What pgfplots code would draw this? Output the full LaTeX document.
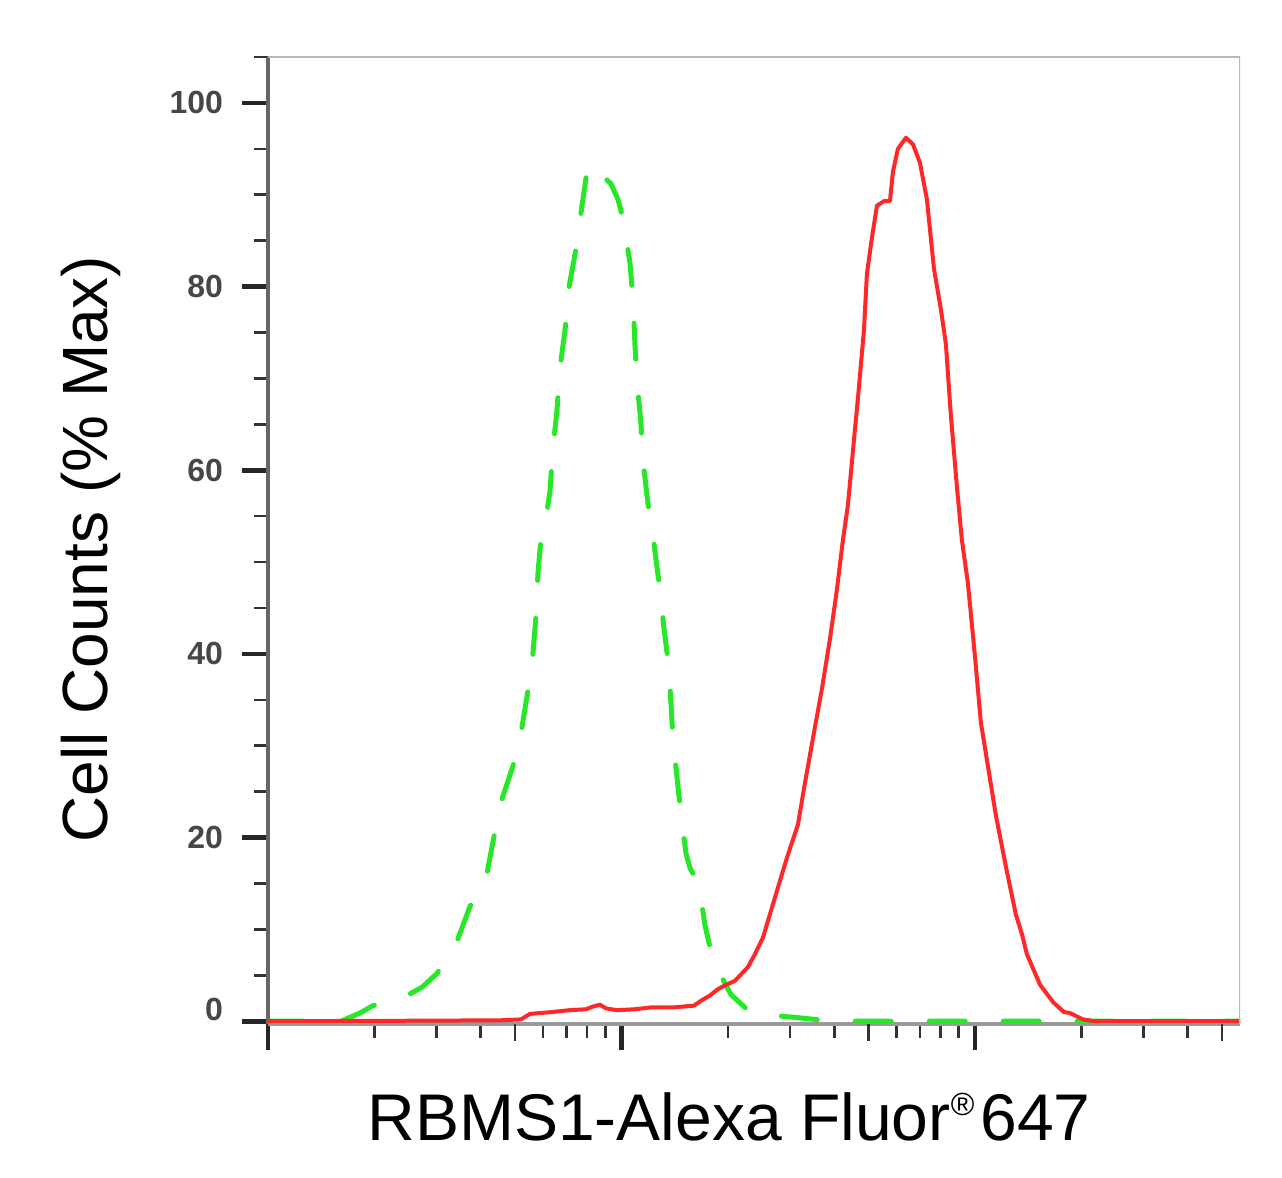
\documentclass[border=0pt]{standalone}
\usepackage{fontspec}
\setmainfont{Liberation Sans}
\usepackage{pgfplots}
\pgfplotsset{compat=1.18}
\definecolor{cgreen}{RGB}{40,230,40}
\definecolor{cred}{RGB}{255,40,40}
\begin{document}
\begin{tikzpicture}
\begin{axis}[
  scale only axis, width=486pt, height=483.5pt,
  xmin=0, xmax=2.75, ymin=-0.3, ymax=105,
  axis x line*=bottom, axis y line*=left,
  x axis line style={gray!80, line width=1.6pt},
  y axis line style={black!60, line width=1.6pt},
  tick align=outside,
  major tick length=13pt, minor tick length=6.8pt,
  major tick style={black!85, line width=2.4pt},
  minor tick style={black!80, line width=1.3pt},
  xtick={0,1,2}, xticklabels={},
  minor xtick={0.30103,0.47712,0.60206,0.77815,0.84510,0.90309,0.95424,
               1.30103,1.47712,1.60206,1.77815,1.84510,1.90309,1.95424,
               2.30103,2.47712,2.60206},
  extra x ticks={0.69897,1.69897,2.69897}, extra x tick labels={},
  extra x tick style={major tick length=8.5pt, major tick style={black!80, line width=1.3pt}},
  ytick={0,20,40,60,80,100},
  yticklabels={{\raisebox{12pt}{0}},20,40,60,80,100},
  minor ytick={5,10,15,25,30,35,45,50,55,65,70,75,85,90,95,105},
  /pgf/number format/assume math mode=true,
  ticklabel style={font=\fontsize{16}{16}\selectfont\bfseries, text=black!72},
  yticklabel style={xshift=-6pt},
  xlabel={RBMS1-Alexa Fluor\raisebox{12.5pt}{\fontsize{16}{16}\selectfont ®}\hspace{3pt}647},
  xlabel style={font=\fontsize{33}{38}\selectfont, at={(axis description cs:0.4743,-0.1200)}, anchor=base},
  ylabel={Cell Counts (\% Max)},
  ylabel style={font=\fontsize{32}{38}\selectfont, at={(axis description cs:-0.1656,0.4912)}, anchor=base, rotate=0},
]
\addplot[cgreen, line width=2.5pt, dash pattern=on 18pt off 19pt, line cap=round, line join=round] coordinates {
(0,0) (0.1754,0) (0.2093,0.05) (0.2603,0.9) (0.2970,1.7) (0.3451,2.3) (0.3932,2.8) (0.4356,3.7) (0.4781,5.2) (0.5347,8.7) (0.5714,12.5) (0.6195,16.1) (0.6393,20.1) (0.6620,24.2) (0.6931,27.8) (0.7185,32) (0.7355,36) (0.7497,40.1) (0.7581,44.1) (0.7638,48.8) (0.7723,52.5) (0.7836,54) (0.7977,57.7) (0.8062,62.4) (0.8176,66.5) (0.8260,71.1) (0.8402,75.2) (0.8515,79.9) (0.8713,84.1) (0.8883,88.8) (0.9024,92.5) (0.9166,93.4) (0.9335,92.8) (0.9533,91.8) (0.9703,91.2) (0.9901,89.5) (1.0043,87.4) (1.0241,82.6) (1.0325,78.7) (1.0382,73.7) (1.0439,69.8) (1.0552,65.1) (1.0608,61.1) (1.0750,56.4) (1.0920,52) (1.1089,47) (1.1202,42.8) (1.1330,38.9) (1.1400,34.7) (1.1457,30.8) (1.1570,26.6) (1.1683,22.6) (1.1825,18.3) (1.1938,16.7) (1.2193,14.8) (1.2362,10.5) (1.2589,6.6) (1.3098,2.9) (1.3494,1.5) (1.3805,0.8) (1.4965,0.4) (1.5842,0.05) (1.65,0) (2.75,0)
};
\addplot[cred, line width=2pt, line join=round] coordinates {
(0,0) (0.3734,0.05) (0.6563,0.1) (0.7157,0.2) (0.7412,0.8) (0.8034,1.0) (0.8515,1.2) (0.8996,1.3) (0.9194,1.6) (0.9392,1.8) (0.9562,1.4) (0.9873,1.2) (1.0354,1.3) (1.0835,1.5) (1.1457,1.5) (1.2051,1.7) (1.2277,2.3) (1.2504,2.8) (1.2730,3.5) (1.2928,3.9) (1.3211,4.4) (1.3579,5.9) (1.3777,7.3) (1.4003,9.1) (1.4314,13.1) (1.4682,17.8) (1.4993,21.4) (1.5163,25.3) (1.5417,30.8) (1.5672,36.2) (1.5898,41.6) (1.6096,47) (1.6266,52.4) (1.6407,56.2) (1.6549,62.1) (1.6690,67.8) (1.6860,75.2) (1.6945,81.4) (1.7086,85.3) (1.7228,88.8) (1.7426,89.3) (1.7596,89.3) (1.7681,92.5) (1.7822,95) (1.8048,96.2) (1.8246,95.5) (1.8444,93.5) (1.8642,89.5) (1.8840,82) (1.9038,77.5) (1.9180,73.7) (1.9321,65.9) (1.9491,58.2) (1.9632,52.4) (1.9802,47.7) (2.0000,39.8) (2.0170,32.5) (2.0368,27.8) (2.0594,22.4) (2.0905,16.3) (2.1160,11.6) (2.1330,9.5) (2.1471,7.3) (2.1839,4.0) (2.2207,2.1) (2.2518,1.0) (2.2687,0.9) (2.3055,0.2) (2.3395,0) (2.75,0)
};
\draw[gray!55, line width=1.5pt] (rel axis cs:0,1) -- (rel axis cs:1,1) -- (rel axis cs:1,0);
\coordinate (BL) at (rel axis cs:0,0);
\coordinate (TR) at (rel axis cs:1,1);
\end{axis}
\pgfresetboundingbox
\path ([shift={(-134pt,-77pt)}]BL) rectangle ([shift={(21pt,28.5pt)}]TR);
\end{tikzpicture}
\end{document}
